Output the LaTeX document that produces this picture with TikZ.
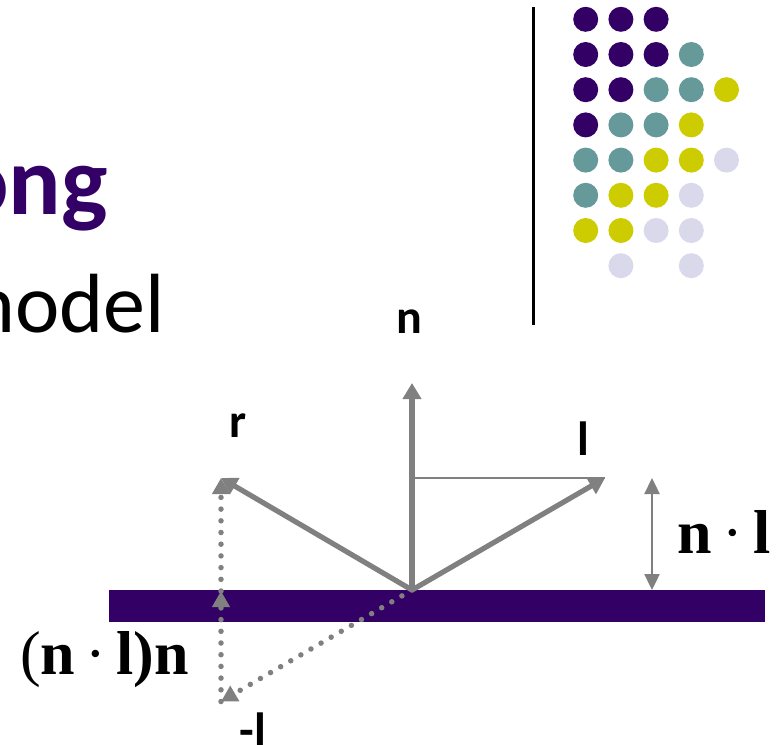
\documentclass[tikz,border=0pt]{standalone}
\usepackage{fontspec}
\setmainfont{Carlito}
\newfontfamily\serifb{Liberation Serif}
\usetikzlibrary{arrows.meta}
\definecolor{ppurple}{HTML}{330066}
\definecolor{pteal}{HTML}{669999}
\definecolor{pyellow}{HTML}{CCCC00}
\definecolor{plav}{HTML}{D9D9EB}
\definecolor{pgray}{HTML}{808080}
\tikzset{
  vec/.style={draw=pgray, line width=5.2pt, -{Triangle[width=18pt,length=16pt]}},
  thinline/.style={draw=pgray, line width=2.4pt},
  dimarrow/.style={draw=pgray, line width=2.4pt, {Triangle[width=15pt,length=16pt]}-{Triangle[width=15pt,length=16pt]}},
  dotvec/.style={draw=pgray, line width=5.5pt, line cap=round, dash pattern=on 0pt off 11.7pt, -{Triangle[width=17pt,length=16pt]}},
  lbl/.style={inner sep=0pt, font=\fontsize{48}{48}\selectfont\bfseries},
  mlbl/.style={inner sep=0pt, font=\fontsize{62}{62}\selectfont\serifb},
  dot/.style={circle, inner sep=0pt, minimum size=25pt}
}
\begin{document}
\begin{tikzpicture}[x=1pt,y=-1pt]
\useasboundingbox (0,0) rectangle (778,744);
\clip (0,0) rectangle (778,744);
% title fragments
\node[inner sep=0pt, anchor=base east, text=ppurple, font=\fontsize{98}{98}\selectfont\bfseries] (title) at (108,214) {ong};
\node[inner sep=0pt, anchor=base east, font=\fontsize{84}{84}\selectfont] (sub) at (165,332) {model};
% separator and dots
\draw[line width=3pt] (533,7) -- (533,325);
\foreach \c/\r/\col in {0/0/ppurple,1/0/ppurple,2/0/ppurple,
  0/1/ppurple,1/1/ppurple,2/1/ppurple,3/1/pteal,
  0/2/ppurple,1/2/ppurple,2/2/pteal,3/2/pteal,4/2/pyellow,
  0/3/ppurple,1/3/pteal,2/3/pteal,3/3/pyellow,
  0/4/pteal,1/4/pteal,2/4/pyellow,3/4/pyellow,4/4/plav,
  0/5/pteal,1/5/pyellow,2/5/pyellow,3/5/plav,
  0/6/pyellow,1/6/pyellow,2/6/plav,3/6/plav,
  1/7/plav,3/7/plav}
  \node[dot, fill=\col] (d\c\r) at ({585.7+35.2*\c},{19.3+35.2*\r}) {};
% surface
\fill[ppurple] (109,590) rectangle (765,621.5);
% points
\coordinate (O) at (412,590);
\coordinate (N) at (412,383);
\coordinate (L) at (605,478);
\coordinate (R) at (221,478);
\coordinate (H) at (414,478);
\coordinate (S) at (221,591);
\coordinate (NL) at (221,701.5);
\coordinate (DT) at (652,478);
\coordinate (DB) at (652,590);
% vectors
\draw[thinline] (H) -- (L);
\draw[vec] (O) -- (N);
\draw[vec] (O) -- (L);
\draw[vec] (O) -- (R);
\draw[dotvec] (O) -- (NL);
\draw[dotvec] (NL) -- (S);
\draw[dotvec] (S) -- (R);
\draw[dimarrow] (DB) -- (DT);
% labels
\node[lbl, anchor=base] (ln) at (409,333) {n};
\node[lbl, anchor=base] (lr) at (238,437) {r};
\node[lbl, anchor=base] (ll) at (583,455) {l};
\node[lbl, anchor=base] (lml) at (253,746) {-l};
\node[mlbl, anchor=base west] (ndl) at (677,553) {\bfseries n\,{\mdseries·}\,l};
\node[mlbl, anchor=base west] (ndln) at (20,674) {(\bfseries n\,{\mdseries·}\,l)\bfseries n};
\end{tikzpicture}
\end{document}
